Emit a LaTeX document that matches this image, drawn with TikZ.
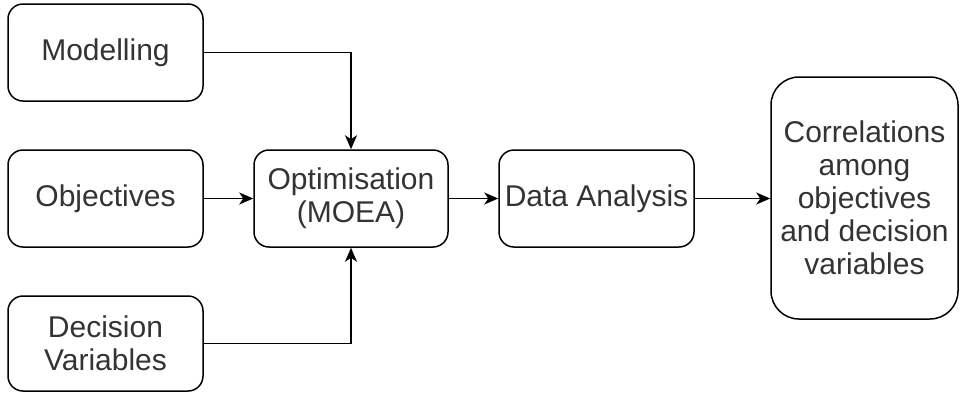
\documentclass[tikz,border=0pt]{standalone}
\usepackage{fontspec}
\setmainfont{Liberation Sans}
\usetikzlibrary{arrows.meta}
\begin{document}
\begin{tikzpicture}[x=1pt,y=-1pt,
  box/.style={draw=black, line width=1.5pt, rounded corners=15pt, inner sep=0pt,
    align=center, text=black!80, font=\fontsize{30}{33}\selectfont},
  link/.style={line width=1.5pt, -{Stealth[length=14pt,width=12pt,inset=4pt]}}]
  \useasboundingbox (0,0) rectangle (960,392);
  % inputs
  \node[box, minimum width=195pt, minimum height=97pt] (mod) at (105.5,52.5) {Modelling};
  \node[box, minimum width=195pt, minimum height=97pt] (obj) at (105.5,198.5) {Objectives};
  \node[box, minimum width=195pt, minimum height=95pt] (dec) at (105.5,343.5) {Decision\\Variables};
  % processing chain
  \node[box, minimum width=194pt, minimum height=97pt] (opt) at (351,198.5) {Optimisation\\(MOEA)};
  \node[box, minimum width=195pt, minimum height=97pt] (data) at (596.5,198.5) {Data Analysis};
  \node[box, rounded corners=28pt, minimum width=187pt, minimum height=242pt] (cor) at (864.5,198) {Correlations\\among\\objectives\\and decision\\variables};
  % connectors
  \draw[link] (mod.east) -| (opt.north);
  \draw[link] (dec.east) -| (opt.south);
  \draw[link] (obj.east) -- (opt.west);
  \draw[link] (opt.east) -- (data.west);
  \draw[link] (data.east) -- (cor.west |- data.east);
\end{tikzpicture}
\end{document}
